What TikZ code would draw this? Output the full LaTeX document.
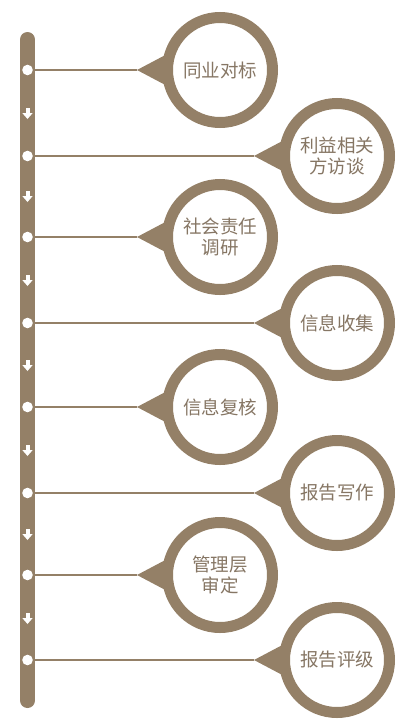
\documentclass[tikz,border=0pt]{standalone}
\usepackage{fontspec}
\newfontfamily\cjk{Noto Sans CJK SC}
\definecolor{brn}{RGB}{148,128,103}
\definecolor{txt}{RGB}{134,118,100}
\begin{document}
\begin{tikzpicture}[x=1pt,y=-1pt,
  ring/.style={circle,draw=brn,line width=11pt,fill=white,minimum size=105pt,inner sep=0pt,
    align=center,text=txt,font=\cjk\fontsize{18.5}{20.5}\selectfont},
  dot/.style={circle,fill=white,minimum size=10.6pt,inner sep=0pt},
  link/.style={draw=brn,line width=1.3pt},
  ptr/.style={fill=brn}]
\useasboundingbox (0,0) rectangle (397,721);
% timeline bar
\draw[brn,line width=15pt,line cap=round] (27.5,39.5) -- (27.5,700.5);
% small down arrows
\foreach \ay in {113,196,280,365,450,534,618}{
  \fill[white] (25.5,\ay-5.5) rectangle (29.5,\ay);
  \fill[white] (22.3,\ay) -- (32.7,\ay) -- (27.5,\ay+6) -- cycle;
}
% rows: name, y, circle x, text
\foreach \n/\yy/\cx/\t in {1/70/220/同业对标,2/156/337/利益相关\\方访谈,3/237/220/社会责任\\调研,4/323/337/信息收集,5/407/220/信息复核,6/493/337/报告写作,7/575/220/管理层\\审定,8/660/337/报告评级}{
  \node[dot] (d\n) at (27.5,\yy) {};
  \coordinate (t\n) at (\cx-83,\yy);
  \fill[ptr] (t\n) -- (\cx-48,\yy-18.5) -- (\cx-48,\yy+18.5) -- cycle;
  \draw[link] (d\n.east) -- (t\n);
  \node[ring] (c\n) at (\cx,\yy) {\t};
}
\end{tikzpicture}
\end{document}
